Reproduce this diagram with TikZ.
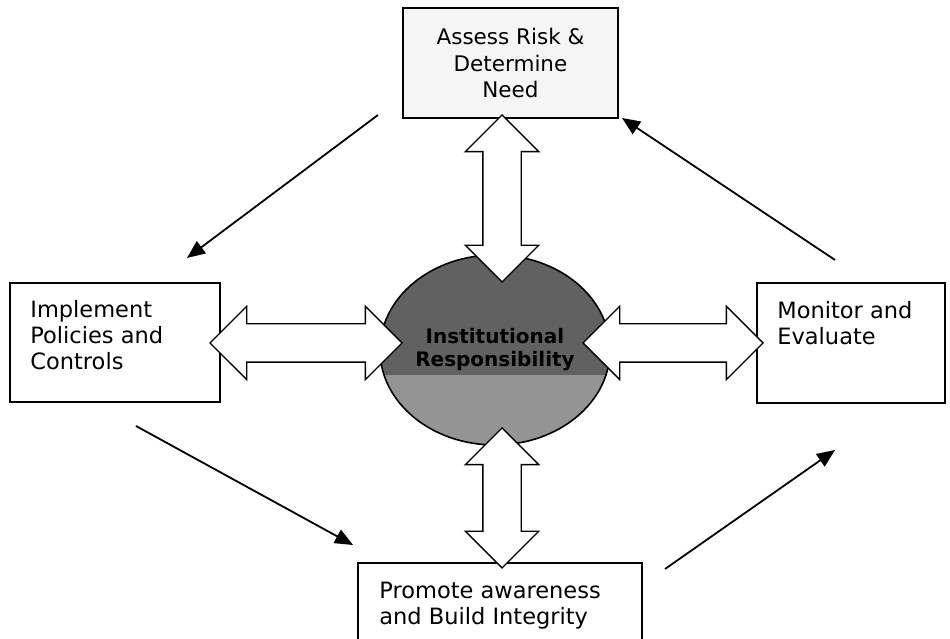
\documentclass[tikz,border=0pt]{standalone}
\usepackage{fontspec}
\setmainfont{DejaVu Sans}
\usetikzlibrary{arrows.meta, shapes.geometric, shapes.arrows}
\usetikzlibrary{positioning}
\tikzstyle{step_box} = [
    rectangle, 
    draw=black, 
    line width=1.6pt, 
    fill=white, 
    inner sep=0pt
]
\tikzstyle{step_text} = [
    font=\fontsize{22.5}{26}\selectfont, 
    align=left, 
    inner sep=0pt
]
\tikzstyle{core_node} = [
    ellipse, 
    draw=black, 
    line width=1.6pt, 
    fill=black!62, 
    minimum width=230pt, 
    minimum height=190pt, 
    inner sep=0pt, 
    font=\bfseries\fontsize{20}{23}\selectfont, 
    align=center
]
\tikzstyle{block_arrow} = [
    double arrow, 
    draw=black, 
    line width=1.4pt, 
    fill=white, 
    inner xsep=0pt, 
    inner ysep=18.5pt, % half the shaft width
    double arrow head extend=17.5pt
]
\tikzstyle{flow} = [
    -{Triangle[length=18pt, width=15pt]}, 
    line width=1.8pt
]

\begin{document}
\begin{tikzpicture}[x=1pt, y=1pt]
\useasboundingbox (0,0) rectangle (950,639);

% the four steps
\node [step_box, fill=black!4, minimum width=215pt, minimum height=110pt, 
       font=\fontsize{21.5}{26.5}\selectfont, align=center] (assess) at (510.5,576) 
    {Assess Risk \&\\Determine\\Need};
\node [step_box, minimum width=210pt, minimum height=119pt] (implement) at (115,296.5) {};
\node [step_box, minimum width=188pt, minimum height=120pt] (monitor) at (851,296) {};
\node [step_box, minimum width=284pt, minimum height=90pt] (promote) at (500,31) {};

% centre
\node [core_node, 
       path picture={\fill[black!42] (path picture bounding box.south west) 
           rectangle ([yshift=-25pt]path picture bounding box.east);}] (core) at (495,289) 
    {Institutional\\Responsibility};

% links to the centre
\node [block_arrow, minimum height=167pt, rotate=90] (arrow_up) at (502,440.5) {};
\node [block_arrow, minimum height=140pt, rotate=90] (arrow_down) at (502,141) {};
\node [block_arrow, minimum height=192pt] (arrow_left) at (306,296) {};
\node [block_arrow, minimum height=180pt] (arrow_right) at (673,296) {};

% texts
\node [step_text, below right=18pt and 21pt of implement.north west] (implement_text) 
    {Implement\\Policies and\\Controls};
\node [step_text, below right=19pt and 21pt of monitor.north west] (monitor_text) 
    {Monitor and\\Evaluate};
\node [step_text, below right=20pt and 22pt of promote.north west] (promote_text) 
    {Promote awareness\\and Build Integrity};

% cycle
\coordinate (assess_out) at (378,524);
\coordinate (implement_in) at (187,381);
\coordinate (implement_out) at (136,213);
\coordinate (promote_in) at (353,94);
\coordinate (promote_out) at (665,70);
\coordinate (monitor_in) at (835,189);
\coordinate (monitor_out) at (835,379);
\coordinate (assess_in) at (622,521);
\draw [flow] (assess_out) -- (implement_in);
\draw [flow] (implement_out) -- (promote_in);
\draw [flow] (promote_out) -- (monitor_in);
\draw [flow] (monitor_out) -- (assess_in);
\end{tikzpicture}
\end{document}
